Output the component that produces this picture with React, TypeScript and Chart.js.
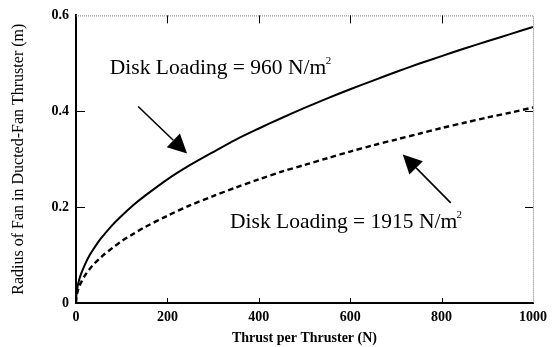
import { useEffect, useRef } from "react";
import { Chart, registerables } from "chart.js";

Chart.register(...registerables);

// Thrust per thruster (N) and resulting fan radius (m) for two disk loadings
const thrust = [0, 1, 2, 5, 10, 20, 30, 40, 50, 60, 80, 100, 125, 150, 200, 250, 300, 350, 400, 450, 500, 550, 600, 650, 700, 750, 800, 850, 900, 950, 1000];
const radius960 = [0, 0.018, 0.026, 0.041, 0.058, 0.081, 0.1, 0.115, 0.129, 0.141, 0.163, 0.182, 0.204, 0.223, 0.258, 0.288, 0.315, 0.341, 0.364, 0.386, 0.407, 0.427, 0.446, 0.464, 0.482, 0.499, 0.515, 0.531, 0.546, 0.561, 0.576];
const radius1915 = [0, 0.013, 0.018, 0.029, 0.041, 0.058, 0.071, 0.082, 0.091, 0.1, 0.115, 0.129, 0.144, 0.158, 0.182, 0.204, 0.223, 0.241, 0.258, 0.274, 0.288, 0.302, 0.316, 0.329, 0.341, 0.353, 0.365, 0.376, 0.387, 0.397, 0.408];

const xTicks = [0, 200, 400, 600, 800, 1000];
const yTicks = [0, 0.2, 0.4, 0.6];

const label960 = "Disk Loading = 960 N/m";
const label1915 = "Disk Loading = 1915 N/m";

const SERIF = '"Liberation Serif", "Times New Roman", serif';

type Note = { text: string; x: number; y: number; from: [number, number]; to: [number, number] };

const notes: Note[] = [
  { text: label960, x: 74, y: 0.478, from: [136, 0.41], to: [243, 0.312] },
  { text: label1915, x: 337, y: 0.157, from: [820, 0.209], to: [715, 0.31] },
];

const framePlugin = {
  id: "frame",
  afterDatasetsDraw(chart: any) {
    const { ctx, chartArea, scales } = chart;
    const { left, right, top, bottom } = chartArea;
    const xs = scales.x;
    const ys = scales.y;
    ctx.save();

    // light top / right frame
    ctx.strokeStyle = "#7a7a7a";
    ctx.lineWidth = 1;
    ctx.setLineDash([1, 1]);
    ctx.beginPath();
    ctx.moveTo(left, top + 0.5);
    ctx.lineTo(right + 0.5, top + 0.5);
    ctx.lineTo(right + 0.5, bottom);
    ctx.stroke();
    ctx.setLineDash([]);

    // inward tick marks on all four sides
    ctx.strokeStyle = "#000";
    ctx.lineWidth = 1;
    ctx.beginPath();
    xTicks.slice(1, -1).forEach((v) => {
      const px = Math.round(xs.getPixelForValue(v)) + 0.5;
      ctx.moveTo(px, bottom);
      ctx.lineTo(px, bottom - 5);
      ctx.moveTo(px, top);
      ctx.lineTo(px, top + 8);
    });
    yTicks.slice(1, -1).forEach((v) => {
      const py = Math.round(ys.getPixelForValue(v)) + 0.5;
      ctx.moveTo(left, py);
      ctx.lineTo(left + 9, py);
      ctx.moveTo(right, py);
      ctx.lineTo(right - 8, py);
    });
    ctx.stroke();

    // labels with arrows
    notes.forEach((n) => {
      const tx = xs.getPixelForValue(n.x);
      const ty = ys.getPixelForValue(n.y);
      ctx.fillStyle = "#000";
      ctx.textBaseline = "alphabetic";
      ctx.textAlign = "left";
      ctx.font = `21.5px ${SERIF}`;
      ctx.fillText(n.text, tx, ty);
      const w = ctx.measureText(n.text).width;
      ctx.font = `11px ${SERIF}`;
      ctx.fillText("2", tx + w - 0.5, ty - 10);

      const x0 = xs.getPixelForValue(n.from[0]);
      const y0 = ys.getPixelForValue(n.from[1]);
      const x1 = xs.getPixelForValue(n.to[0]);
      const y1 = ys.getPixelForValue(n.to[1]);
      const ang = Math.atan2(y1 - y0, x1 - x0);
      const headLen = 19;
      const headHalf = 9.5;
      const bx = x1 - headLen * Math.cos(ang);
      const by = y1 - headLen * Math.sin(ang);
      ctx.strokeStyle = "#000";
      ctx.lineWidth = 1.6;
      ctx.beginPath();
      ctx.moveTo(x0, y0);
      ctx.lineTo(bx, by);
      ctx.stroke();
      ctx.beginPath();
      ctx.moveTo(x1, y1);
      ctx.lineTo(bx + headHalf * Math.sin(ang), by - headHalf * Math.cos(ang));
      ctx.lineTo(bx - headHalf * Math.sin(ang), by + headHalf * Math.cos(ang));
      ctx.closePath();
      ctx.fill();
    });

    ctx.restore();
  },
};

export default function App() {
  const canvasRef = useRef<HTMLCanvasElement | null>(null);

  useEffect(() => {
    if (!canvasRef.current) return;
    const chart = new Chart(canvasRef.current, {
      type: "line",
      data: {
        datasets: [
          {
            label: "960 N/m²",
            data: thrust.map((t, i) => ({ x: t, y: radius960[i] })),
            borderColor: "#000",
            borderWidth: 2,
            pointRadius: 0,
            tension: 0.3,
            fill: false,
          },
          {
            label: "1915 N/m²",
            data: thrust.map((t, i) => ({ x: t, y: radius1915[i] })),
            borderColor: "#000",
            borderWidth: 2.4,
            borderDash: [5.5, 3.5],
            pointRadius: 0,
            tension: 0.3,
            fill: false,
          },
        ],
      },
      options: {
        responsive: false,
        animation: false,
        devicePixelRatio: 1,
        layout: { padding: { top: 13, right: 22, left: 0, bottom: 0 } },
        plugins: { legend: { display: false }, tooltip: { enabled: false } },
        scales: {
          x: {
            type: "linear",
            min: 0,
            max: 1000,
            afterBuildTicks: (s: any) => {
              s.ticks = xTicks.map((v) => ({ value: v }));
            },
            afterFit: (s: any) => {
              s.height = 44;
            },
            grid: { display: false, drawTicks: false },
            border: { display: true, color: "#000", width: 2 },
            ticks: {
              padding: 6,
              color: "#000",
              maxRotation: 0,
              font: { family: SERIF, size: 14, weight: "bold" },
              callback: (v: any) => String(v),
            },
            title: {
              display: true,
              text: "Thrust per Thruster (N)",
              color: "#000",
              padding: { top: 0, bottom: 0 },
              font: { family: SERIF, size: 14, weight: "bold" },
            },
          },
          y: {
            type: "linear",
            min: 0,
            max: 0.6,
            afterBuildTicks: (s: any) => {
              s.ticks = yTicks.map((v) => ({ value: v }));
            },
            afterFit: (s: any) => {
              s.width = 76;
            },
            grid: { display: false, drawTicks: false },
            border: { display: true, color: "#000", width: 2 },
            ticks: {
              padding: 7,
              color: "#000",
              font: { family: SERIF, size: 14, weight: "bold" },
              callback: (v: any) => String(Math.round(Number(v) * 10) / 10),
            },
            title: {
              display: true,
              text: "Radius of Fan in Ducted-Fan Thruster (m)",
              color: "#000",
              padding: { top: 9, bottom: 0 },
              font: { family: SERIF, size: 16, weight: "normal" },
            },
          },
        },
      },
      plugins: [framePlugin],
    });
    return () => chart.destroy();
  }, []);

  return (
    <div style={{ position: "absolute", left: 0, top: 0, width: 555, height: 347, background: "#fff" }}>
      <canvas ref={canvasRef} width={555} height={347} />
    </div>
  );
}
